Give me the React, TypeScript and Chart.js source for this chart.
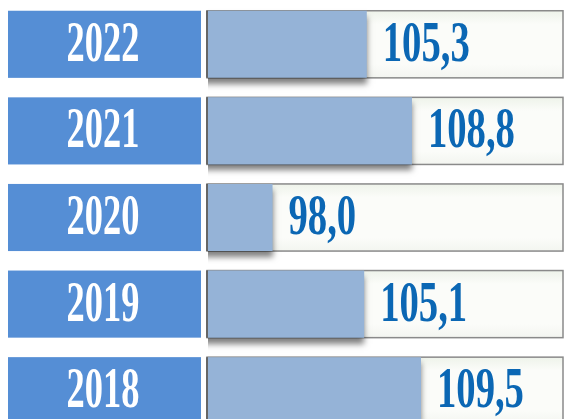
import React, { useEffect, useRef } from "react";
import { Chart, registerables } from "chart.js";

Chart.register(...registerables);

const years = ["2022", "2021", "2020", "2019", "2018"];
const values = [105.3, 108.8, 98.0, 105.1, 109.5];
const valueLabels = ["105,3", "108,8", "98,0", "105,1", "109,5"];

const W = 565;
const H = 435;

const boxesPlugin = {
  id: "boxes",
  beforeDatasetsDraw(chart: any) {
    const ctx = chart.ctx;
    const meta = chart.getDatasetMeta(0);
    meta.data.forEach((el: any, i: number) => {
      const h = el.height;
      const top = el.y - h / 2;
      // left blue box
      ctx.save();
      ctx.fillStyle = "#558ed5";
      ctx.fillRect(8, top, 193, h);
      // year text
      ctx.translate(103, el.y + 2);
      ctx.scale(0.65, 1);
      ctx.fillStyle = "#ffffff";
      ctx.font = "bold 56px 'Liberation Serif', 'Times New Roman', serif";
      ctx.textAlign = "center";
      ctx.textBaseline = "middle";
      ctx.fillText(years[i], 0, 0);
      ctx.restore();
      // track box
      ctx.save();
      const g = ctx.createLinearGradient(0, top, 0, top + h);
      g.addColorStop(0, "#eef3ea");
      g.addColorStop(0.2, "#fbfcf9");
      g.addColorStop(0.8, "#fbfcf9");
      g.addColorStop(1, "#f3f5f0");
      ctx.fillStyle = g;
      ctx.fillRect(207, top, 356, h);
      ctx.strokeStyle = "#8a8a8a";
      ctx.lineWidth = 1.5;
      ctx.strokeRect(207, top, 356, h);
      ctx.strokeStyle = "#505050";
      ctx.beginPath();
      ctx.moveTo(207, top);
      ctx.lineTo(207, top + h);
      ctx.stroke();
      ctx.restore();
    });
    ctx.save();
    ctx.shadowColor = "rgba(0,0,0,0.5)";
    ctx.shadowBlur = 6;
    ctx.shadowOffsetX = 0;
    ctx.shadowOffsetY = 6;
  },
  afterDatasetsDraw(chart: any) {
    const ctx = chart.ctx;
    ctx.restore();
    const meta = chart.getDatasetMeta(0);
    meta.data.forEach((el: any, i: number) => {
      ctx.save();
      ctx.translate(el.x + 16, el.y + 2);
      ctx.scale(0.69, 1);
      ctx.fillStyle = "#0b67b4";
      ctx.font = "bold 56px 'Liberation Serif', 'Times New Roman', serif";
      ctx.textAlign = "left";
      ctx.textBaseline = "middle";
      ctx.fillText(valueLabels[i], 0, 0);
      ctx.restore();
    });
  },
};

export default function App() {
  const ref = useRef<HTMLCanvasElement | null>(null);
  useEffect(() => {
    if (!ref.current) return;
    const chart = new Chart(ref.current, {
      type: "bar",
      data: {
        labels: years,
        datasets: [
          {
            data: values,
            backgroundColor: "#95b3d7",
            borderWidth: 0,
            barPercentage: 0.775,
            categoryPercentage: 1,
          },
        ],
      },
      options: {
        indexAxis: "y",
        responsive: false,
        animation: false,
        events: [],
        layout: { padding: { left: 208, right: 2, top: 1, bottom: 1 } },
        plugins: { legend: { display: false }, tooltip: { enabled: false } },
        scales: {
          x: { display: false, min: 93, max: 120.5 },
          y: { display: false },
        },
      },
      plugins: [boxesPlugin],
    });
    return () => chart.destroy();
  }, []);
  return (
    <div
      style={{
        position: "fixed",
        left: 0,
        top: 0,
        width: W,
        height: 419,
        overflow: "hidden",
        background: "#ffffff",
      }}
    >
      <canvas ref={ref} width={W} height={H} style={{ display: "block" }} />
    </div>
  );
}
